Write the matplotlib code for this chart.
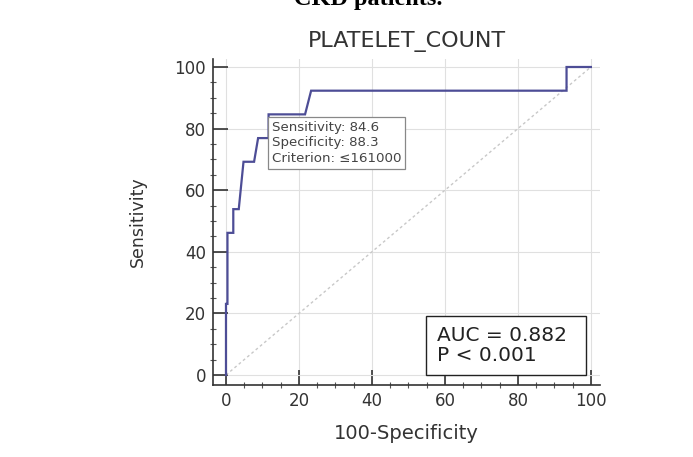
import matplotlib
matplotlib.use("Agg")
import matplotlib.pyplot as plt
from matplotlib.ticker import MultipleLocator
from matplotlib.patches import Rectangle

# ROC curve points (100-Specificity, Sensitivity)
fpr = [0, 0, 0.4, 0.4, 2.0, 2.0, 3.5, 4.8, 7.7, 8.8, 11.67, 11.67, 21.67, 23.33, 93.33, 93.33, 100]
tpr = [0, 23.08, 23.08, 46.15, 46.15, 53.85, 53.85, 69.23, 69.23, 76.92, 76.92, 84.62, 84.62, 92.31, 92.31, 100, 100]
crit_x, crit_y = 11.67, 84.62
crit_lines = ["Sensitivity: 84.6", "Specificity: 88.3", "Criterion: \u2264161000"]
auc_lines = ["AUC = 0.882", "P < 0.001"]
title = "PLATELET_COUNT"
ticks = [0, 20, 40, 60, 80, 100]

plt.rcParams['font.family'] = ['DejaVu Sans']

W, H = 693, 457
fig = plt.figure(figsize=(W / 100, H / 100), dpi=100)
ax = fig.add_axes([213 / W, 1 - 385 / H, (600 - 213) / W, (385 - 59.3) / H])

ax.set_xlim(-3.56, 102.5)
ax.set_ylim(-3.25, 102.5)

ax.grid(True, which='major', color='#e0e0e0', linewidth=0.8, linestyle='-')
ax.set_axisbelow(True)

ax.plot([0, 100], [0, 100], color='#c8c8c8', linewidth=1.0, linestyle=(0, (2, 2)))
ax.plot(fpr, tpr, color='#4d4d96', linewidth=1.6, solid_joinstyle='miter')

for s in ['top', 'right']:
    ax.spines[s].set_visible(False)
for s in ['left', 'bottom']:
    ax.spines[s].set_color('#333333')
    ax.spines[s].set_linewidth(1.2)

ax.set_xticks(ticks)
ax.set_yticks(ticks)
ax.xaxis.set_minor_locator(MultipleLocator(5))
ax.yaxis.set_minor_locator(MultipleLocator(5))
ax.tick_params(which='major', direction='in', length=11, width=1.2, color='#333333',
               labelsize=12, labelcolor='#333333', pad=5)
ax.tick_params(which='minor', direction='inout', length=5, width=0.8, color='#555555')

ax.set_xlabel("100-Specificity", fontsize=14, color='#333333', labelpad=10)
ax.set_ylabel("Sensitivity", fontsize=12.5, color='#333333', labelpad=20)
fig.text(407 / W, 1 - 42 / H, title, fontsize=16, color='#333333', ha='center', va='center')

ax.text(crit_x + 0.9, crit_y - 2.0, "\n".join(crit_lines), fontsize=9.6, color='#444444',
        va='top', ha='left', linespacing=1.28,
        bbox=dict(boxstyle='square,pad=0.3', facecolor='white', edgecolor='#888888', linewidth=0.9))

# AUC box
ax.add_patch(Rectangle((54.8, 0.0), 43.8, 19.2, facecolor='white', edgecolor='#222222',
                       linewidth=1.0, zorder=3))
ax.text(57.8, 9.6, "\n".join(auc_lines), fontsize=14.5, color='#222222',
        va='center', ha='left', linespacing=1.05, zorder=4)

fig.text(368 / W, 1 - 5 / H, "CKD patients.", fontsize=17.5, fontweight='bold',
         family='Liberation Serif', ha='center', va='baseline', color='black')

fig.savefig("out.png", dpi=100, facecolor='white')
